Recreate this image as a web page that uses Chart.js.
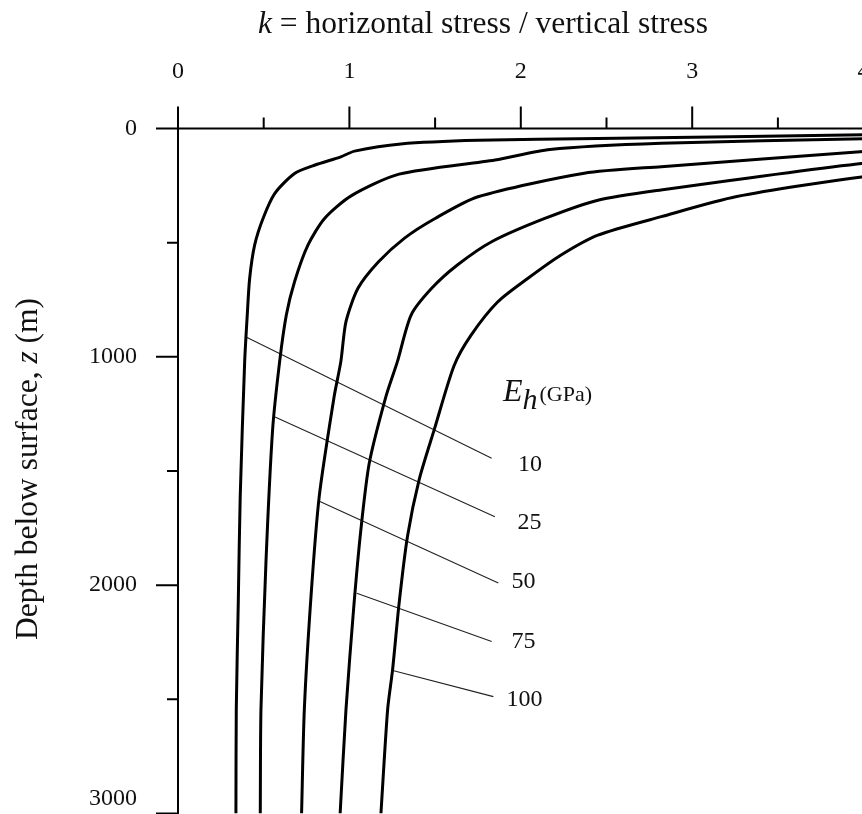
<!DOCTYPE html>
<html>
<head>
<meta charset="utf-8">
<script src="https://cdn.jsdelivr.net/npm/chart.js@4.4.1/dist/chart.umd.min.js"></script>
<style>
  html, body { margin: 0; padding: 0; background: #fff; overflow: hidden; }
  #wrap { width: 862px; height: 814px; overflow: hidden; position: relative; }
  #chart { position: absolute; left: 0; top: 0; }
</style>
</head>
<body>
<div id="wrap"><canvas id="chart" width="900" height="850"></canvas></div>
<script>
// k = horizontal / vertical stress, against depth z (m), one curve per E_h (GPa)
const eh10K  = [4.4, 4.0, 2.45, 1.75, 1.30, 1.03, 0.95, 0.80, 0.68, 0.564, 0.496, 0.447, 0.418, 0.404, 0.389, 0.363, 0.352, 0.340, 0.338];
const eh10Z  = [20, 27, 44, 52, 68, 99, 124, 160, 197, 285, 394, 511, 657, 817, 1021, 1611, 2063, 2545, 3000];
const eh25K  = [4.4, 4.0, 2.82, 2.17, 1.85, 1.29, 1.01, 0.855, 0.758, 0.68, 0.632, 0.593, 0.552, 0.513, 0.484, 0.480];
const eh25Z  = [40, 45, 65, 92, 138, 200, 295, 394, 511, 671, 817, 1021, 1319, 1903, 2545, 3000];
const eh50K  = [4.4, 4.0, 2.82, 2.37, 1.75, 1.50, 1.32, 1.17, 1.05, 0.98, 0.950, 0.911, 0.824, 0.776, 0.737, 0.721];
const eh50Z  = [88, 101, 167, 196, 299, 394, 481, 584, 700, 846, 1021, 1174, 1611, 2049, 2545, 3000];
const eh75K  = [4.4, 4.0, 2.82, 2.45, 2.14, 1.83, 1.63, 1.48, 1.36, 1.28, 1.213, 1.116, 1.067, 1.025, 0.980, 0.946];
const eh75Z  = [138, 152, 269, 314, 394, 496, 598, 700, 817, 1021, 1174, 1465, 1757, 2100, 2545, 3000];
const eh100K = [4.4, 4.0, 3.26, 2.82, 2.45, 2.235, 2.04, 1.866, 1.71, 1.61, 1.495, 1.407, 1.339, 1.29, 1.252, 1.223, 1.184];
const eh100Z = [190, 211, 298, 386, 467, 554, 657, 759, 905, 1040, 1319, 1538, 1786, 2080, 2370, 2545, 3000];

// E_h labels and their thin leader lines
const ehLabels     = ['10', '25', '50', '75', '100'];
const labelK       = [2.054, 2.051, 2.016, 2.016, 2.022];
const labelZ       = [1473, 1727, 1986, 2248, 2502];
const leaderStartK = [0.391, 0.566, 0.828, 1.043, 1.253];
const leaderStartZ = [911, 1264, 1634, 2035, 2374];
const leaderEndK   = [1.830, 1.849, 1.869, 1.830, 1.840];
const leaderEndZ   = [1444, 1700, 1991, 2247, 2488];
const unitLabelK = 1.896;
const unitLabelZ = 1193;

const curves = [
  [eh10K, eh10Z], [eh25K, eh25Z], [eh50K, eh50Z], [eh75K, eh75Z], [eh100K, eh100Z]
];

const serif = '"Liberation Serif", "Times New Roman", serif';

const datasets = curves.map(([ks, zs], i) => ({
  label: 'E_h ' + ehLabels[i],
  data: ks.map((k, j) => ({ x: k, y: zs[j] })),
  borderColor: '#000',
  borderWidth: 3,
  pointRadius: 0,
  tension: 0.25,
  fill: false
}));
ehLabels.forEach((name, i) => {
  datasets.push({
    label: 'leader ' + name,
    data: [{ x: leaderStartK[i], y: leaderStartZ[i] }, { x: leaderEndK[i], y: leaderEndZ[i] }],
    borderColor: '#222',
    borderWidth: 1.1,
    pointRadius: 0,
    fill: false
  });
});

// draws text pieces one after the other (for italic symbols / subscripts)
function drawPieces(ctx, pieces, x, y) {
  let cx = x;
  pieces.forEach(p => {
    ctx.font = (p.italic ? 'italic ' : '') + p.size + 'px ' + serif;
    ctx.fillText(p.text, cx, y + (p.dy || 0));
    cx += ctx.measureText(p.text).width + (p.gap || 0);
  });
  return cx - x;
}
function piecesWidth(ctx, pieces) {
  let w = 0;
  pieces.forEach(p => {
    ctx.font = (p.italic ? 'italic ' : '') + p.size + 'px ' + serif;
    w += ctx.measureText(p.text).width + (p.gap || 0);
  });
  return w;
}

const axesPlugin = {
  id: 'axesAndText',
  afterDatasetsDraw(chart) {
    const { ctx, chartArea: a, scales: { x, y } } = chart;
    ctx.save();
    ctx.strokeStyle = '#000';
    ctx.lineWidth = 2;
    ctx.beginPath();
    ctx.moveTo(a.left, a.top); ctx.lineTo(a.right + 30, a.top);
    ctx.moveTo(a.left, a.top); ctx.lineTo(a.left, a.bottom + 30);
    x.ticks.forEach(t => {
      const px = x.getPixelForValue(t.value);
      const len = Number.isInteger(t.value) ? 22 : 11;
      ctx.moveTo(px, a.top); ctx.lineTo(px, a.top - len);
    });
    y.ticks.forEach(t => {
      const py = y.getPixelForValue(t.value);
      const len = t.value % 1000 === 0 ? 22 : 11;
      ctx.moveTo(a.left, py); ctx.lineTo(a.left - len, py);
    });
    ctx.stroke();

    ctx.fillStyle = '#111';
    ctx.textBaseline = 'alphabetic';
    ctx.textAlign = 'left';

    // top axis title
    drawPieces(ctx, [
      { text: 'k', italic: true, size: 31.5 },
      { text: ' = horizontal stress / vertical stress', size: 31.5 }
    ], 258, 33);

    // left axis title, rotated
    const yTitle = [
      { text: 'Depth below surface, ', size: 31.5 },
      { text: 'z', italic: true, size: 31.5 },
      { text: ' (m)', size: 31.5 }
    ];
    const w = piecesWidth(ctx, yTitle);
    ctx.save();
    ctx.translate(37, 469);
    ctx.rotate(-Math.PI / 2);
    drawPieces(ctx, yTitle, -w / 2, 0);
    ctx.restore();

    // E_h (GPa)
    drawPieces(ctx, [
      { text: 'E', italic: true, size: 32 },
      { text: 'h', italic: true, size: 30, dy: 8, gap: 2 },
      { text: '(GPa)', size: 22 }
    ], x.getPixelForValue(unitLabelK), y.getPixelForValue(unitLabelZ));

    // curve labels
    ctx.font = '24px ' + serif;
    ctx.textAlign = 'center';
    ctx.textBaseline = 'middle';
    ehLabels.forEach((t, i) => {
      ctx.fillText(t, x.getPixelForValue(labelK[i]), y.getPixelForValue(labelZ[i]));
    });
    ctx.restore();
  }
};

new Chart(document.getElementById('chart'), {
  type: 'line',
  data: { datasets },
  options: {
    responsive: false,
    animation: false,
    layout: { padding: { left: 0, top: 0, right: 36.4, bottom: 36.5 } },
    plugins: { legend: { display: false }, tooltip: { enabled: false } },
    scales: {
      x: {
        type: 'linear',
        position: 'top',
        min: 0,
        max: 4,
        grid: { display: false, drawTicks: false },
        border: { display: false },
        ticks: {
          stepSize: 0.5,
          autoSkip: false,
          maxRotation: 0,
          padding: 42,
          color: '#111',
          font: { family: serif, size: 24 },
          callback: v => Number.isInteger(v) ? String(v) : ''
        },
        // fixed band above the plot; label overhang must not shrink the plot
        afterFit: s => { s.height = 128.5; s.paddingLeft = 0; s.paddingRight = 0; }
      },
      y: {
        type: 'linear',
        reverse: true,
        min: 0,
        max: 3000,
        grid: { display: false, drawTicks: false },
        border: { display: false },
        ticks: {
          stepSize: 500,
          autoSkip: false,
          padding: 41,
          color: '#111',
          font: { family: serif, size: 24 },
          // the bottom label sits just above its tick, so it stays on the page
          callback: v => v === 3000 ? ['3000', ''] : (v % 1000 === 0 ? String(v) : '')
        },
        afterFit: s => { s.width = 178; s.paddingTop = 0; s.paddingBottom = 0; }
      }
    }
  },
  plugins: [axesPlugin]
});
</script>
</body>
</html>
